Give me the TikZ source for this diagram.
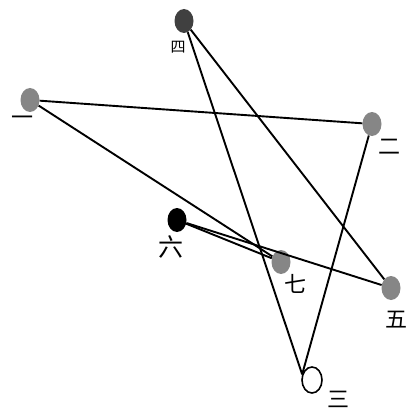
\documentclass[tikz,border=0pt]{standalone}
\usepackage{fontspec}
\newfontfamily\cjk{Noto Sans CJK SC}
\usetikzlibrary{shapes.geometric}
\begin{document}
\begin{tikzpicture}[x=1pt,y=-1pt,
  dot/.style={ellipse,draw=none,minimum width=19pt,minimum height=24pt,inner sep=0pt},
  graydot/.style={dot,fill=gray!95!white},
  lbl/.style={font=\cjk\fontsize{22}{22}\selectfont,inner sep=0pt},
  edge/.style={line width=1.9pt,black}]
\useasboundingbox (0,0) rectangle (415,417);
\node[dot,fill=black!75] (n4) at (184,21) {};
\node[graydot] (n1) at (30,100) {};
\node[graydot] (n2) at (372,124) {};
\node[dot,fill=black] (n6) at (177,220) {};
\node[graydot] (n7) at (281,262) {};
\node[graydot] (n5) at (391,288) {};
\node[ellipse,draw=black,line width=1.6pt,fill=white,minimum width=20pt,minimum height=26pt,inner sep=0pt] (n3) at (312,380) {};
\node[lbl,font=\cjk\fontsize{15}{15}\selectfont] (l4) at (178,47) {四};
\node[lbl] (l1) at (22,121) {一};
\node[lbl] (l2) at (389,147) {二};
\node[lbl,font=\cjk\fontsize{25}{25}\selectfont] (l6) at (171,247) {六};
\node[lbl] (l7) at (295,284) {七};
\node[lbl] (l5) at (396,320) {五};
\node[lbl] (l3) at (338,399) {三};
\draw[edge] (n1) -- (n2);
\draw[edge] (n1) -- (n7);
\draw[edge] (n4) -- (n3.150);
\draw[edge] (n4) -- (n5);
\draw[edge] (n2) -- (n3.150);
\draw[edge] (n6) -- (n5);
\draw[edge] (n6) -- (n7);
\end{tikzpicture}
\end{document}
